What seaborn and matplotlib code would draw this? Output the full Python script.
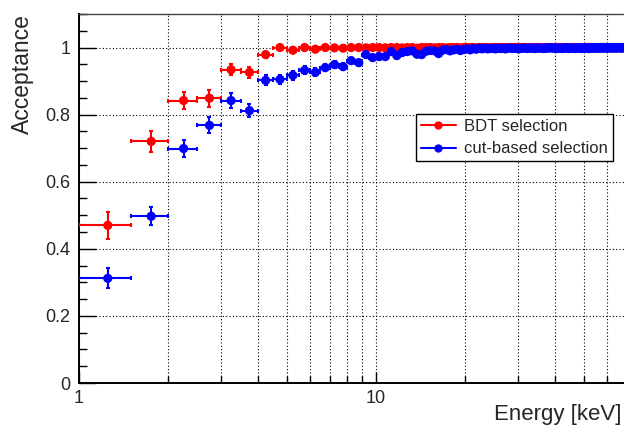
import numpy as np
import pandas as pd
import matplotlib
matplotlib.use("Agg")
import matplotlib.pyplot as plt
import seaborn as sns
from matplotlib.lines import Line2D
from matplotlib.ticker import LogLocator, FuncFormatter, NullFormatter, MultipleLocator

# energy bins: 0.5 keV wide, starting at 1 keV
bin_width = 0.5
energy = np.arange(1.25, 68.5, bin_width)

# acceptance, BDT selection
bdt_acc = [
    0.470, 0.720, 0.842, 0.849, 0.934, 0.926, 0.979, 1.000, 0.992, 1.000,
    0.995, 1.000, 0.999, 0.998, 1.000, 1.000, 0.999, 1.000, 1.000, 0.999,
    1.000, 1.000, 0.999, 1.000, 1.000, 0.998, 1.000, 1.000, 1.000, 0.999,
    1.000, 1.000, 0.999, 1.000, 1.000, 1.000, 0.999, 1.000, 1.000, 1.000,
    1.000, 0.999, 1.000, 1.000, 1.000, 1.000, 0.999, 1.000, 1.000, 1.000,
    1.000, 1.000, 1.000, 0.999, 1.000, 1.000, 1.000, 1.000, 1.000, 0.999,
    1.000, 1.000, 1.000, 1.000, 0.999, 1.000, 1.000, 1.000, 1.000, 1.000,
    1.000, 0.999, 1.000, 1.000, 1.000, 1.000, 1.000, 1.000, 0.999, 1.000,
    1.000, 1.000, 1.000, 1.000, 1.000, 0.999, 1.000, 1.000, 1.000, 1.000,
    1.000, 1.000, 0.999, 1.000, 1.000, 1.000, 1.000, 1.000, 1.000, 1.000,
    0.999, 1.000, 1.000, 1.000, 1.000, 1.000, 1.000, 0.999, 1.000, 1.000,
    1.000, 1.000, 1.000, 1.000, 1.000, 1.000, 0.999, 1.000, 1.000, 1.000,
    1.000, 1.000, 1.000, 1.000, 1.000, 1.000, 1.000, 1.000, 0.999, 1.000,
    1.000, 1.000, 1.000, 1.000, 1.000,
]
bdt_err = [
    0.040, 0.031, 0.024, 0.025, 0.016, 0.016, 0.009, 0.003, 0.006, 0.003,
    0.005, 0.002, 0.003, 0.003, 0.002, 0.002, 0.003, 0.002, 0.002, 0.003,
    0.002, 0.002, 0.003, 0.002, 0.002, 0.003, 0.002, 0.002, 0.002, 0.003,
    0.002, 0.002, 0.002, 0.002, 0.002, 0.002, 0.002, 0.002, 0.002, 0.002,
    0.002, 0.002, 0.002, 0.002, 0.002, 0.002, 0.002, 0.002, 0.002, 0.002,
    0.002, 0.002, 0.002, 0.002, 0.002, 0.002, 0.002, 0.002, 0.002, 0.002,
    0.002, 0.002, 0.002, 0.002, 0.002, 0.002, 0.002, 0.002, 0.002, 0.002,
    0.002, 0.002, 0.002, 0.002, 0.002, 0.002, 0.002, 0.002, 0.002, 0.002,
    0.002, 0.002, 0.002, 0.002, 0.002, 0.002, 0.002, 0.002, 0.002, 0.002,
    0.002, 0.002, 0.002, 0.002, 0.002, 0.002, 0.002, 0.002, 0.002, 0.002,
    0.002, 0.002, 0.002, 0.002, 0.002, 0.002, 0.002, 0.002, 0.002, 0.002,
    0.002, 0.002, 0.002, 0.002, 0.002, 0.002, 0.002, 0.002, 0.002, 0.002,
    0.002, 0.002, 0.002, 0.002, 0.002, 0.002, 0.002, 0.002, 0.002, 0.002,
    0.002, 0.002, 0.002, 0.002, 0.002,
]

# acceptance, cut-based selection
cut_acc = [
    0.312, 0.497, 0.699, 0.768, 0.842, 0.812, 0.902, 0.905, 0.917, 0.932,
    0.926, 0.940, 0.949, 0.943, 0.961, 0.955, 0.979, 0.970, 0.973, 0.973,
    0.988, 0.976, 0.985, 0.988, 0.990, 0.980, 0.979, 0.989, 0.991, 0.990,
    0.982, 0.992, 0.994, 0.990, 0.993, 0.995, 0.991, 0.994, 0.996, 0.993,
    0.997, 0.995, 0.998, 0.996, 0.998, 0.996, 0.997, 0.998, 0.996, 0.998,
    0.997, 0.998, 0.996, 0.998, 0.999, 0.997, 0.998, 0.997, 0.996, 0.998,
    0.998, 0.999, 0.997, 0.998, 0.999, 0.998, 0.997, 0.999, 0.998, 0.999,
    0.998, 0.997, 0.999, 0.998, 0.999, 1.000, 0.998, 0.999, 0.998, 0.997,
    0.999, 0.998, 0.997, 0.999, 0.998, 1.000, 0.998, 0.997, 0.999, 0.998,
    0.999, 0.997, 0.998, 1.000, 0.998, 0.999, 0.997, 0.999, 0.998, 1.000,
    0.998, 0.999, 0.997, 0.999, 1.000, 0.998, 0.999, 0.998, 1.000, 0.999,
    0.998, 1.000, 0.999, 0.998, 0.999, 1.000, 0.998, 0.999, 1.000, 0.999,
    0.999, 0.998, 1.000, 0.999, 1.000, 0.998, 0.999, 1.000, 0.999, 1.000,
    0.999, 1.000, 0.998, 0.999, 1.000,
]
cut_err = [
    0.030, 0.027, 0.024, 0.024, 0.021, 0.020, 0.015, 0.014, 0.013, 0.012,
    0.012, 0.011, 0.010, 0.010, 0.009, 0.009, 0.007, 0.008, 0.008, 0.008,
    0.006, 0.007, 0.006, 0.006, 0.005, 0.006, 0.006, 0.005, 0.005, 0.005,
    0.005, 0.004, 0.004, 0.004, 0.004, 0.004, 0.004, 0.004, 0.003, 0.004,
    0.003, 0.004, 0.003, 0.003, 0.003, 0.003, 0.003, 0.003, 0.003, 0.003,
    0.003, 0.003, 0.003, 0.003, 0.002, 0.003, 0.003, 0.003, 0.003, 0.003,
    0.003, 0.002, 0.003, 0.003, 0.003, 0.002, 0.003, 0.003, 0.002, 0.003,
    0.003, 0.003, 0.002, 0.003, 0.003, 0.002, 0.003, 0.003, 0.002, 0.003,
    0.002, 0.003, 0.003, 0.002, 0.003, 0.002, 0.003, 0.003, 0.002, 0.003,
    0.002, 0.003, 0.003, 0.002, 0.003, 0.002, 0.003, 0.002, 0.003, 0.002,
    0.003, 0.002, 0.003, 0.002, 0.002, 0.003, 0.002, 0.003, 0.002, 0.002,
    0.003, 0.002, 0.002, 0.003, 0.002, 0.002, 0.003, 0.002, 0.002, 0.002,
    0.002, 0.003, 0.002, 0.002, 0.002, 0.003, 0.002, 0.002, 0.002, 0.002,
    0.002, 0.002, 0.003, 0.002, 0.002,
]

series_names = ["BDT selection", "cut-based selection"]
series_colors = {"BDT selection": "#ff0000", "cut-based selection": "#0000ff"}

df = pd.concat([
    pd.DataFrame({"energy": energy, "acc": bdt_acc, "err": bdt_err, "sel": series_names[0]}),
    pd.DataFrame({"energy": energy, "acc": cut_acc, "err": cut_err, "sel": series_names[1]}),
], ignore_index=True)

sns.set_style("ticks", {"xtick.direction": "in", "ytick.direction": "in"})
plt.rcParams["font.family"] = ["Liberation Sans", "DejaVu Sans"]

fig = plt.figure(figsize=(6.24, 4.29), dpi=100)
ax = fig.add_axes([0.1266, 0.1072, 0.8734, 0.8602])
ax.set_xscale("log")

# error bars (x = bin width, y = stat. error), then the markers on top
for name in series_names:
    sub = df[df["sel"] == name]
    ax.errorbar(sub["energy"], sub["acc"], xerr=bin_width / 2, yerr=sub["err"],
                fmt="none", ecolor=series_colors[name], elinewidth=1.5,
                capsize=1.6, capthick=1.5, zorder=3)
    sns.scatterplot(data=sub, x="energy", y="acc", color=series_colors[name],
                    s=44, edgecolor="none", linewidth=0, ax=ax, zorder=4, legend=False)

ax.set_xlim(1, 68.4)
ax.set_ylim(0, 1.1)

ax.xaxis.set_major_locator(LogLocator(base=10))
ax.xaxis.set_minor_locator(LogLocator(base=10, subs=np.arange(2, 10)))
ax.xaxis.set_major_formatter(FuncFormatter(lambda v, p: "%g" % v))
ax.xaxis.set_minor_formatter(NullFormatter())
ax.yaxis.set_major_locator(MultipleLocator(0.2))
ax.yaxis.set_minor_locator(MultipleLocator(0.05))
ax.yaxis.set_major_formatter(FuncFormatter(lambda v, p: "%g" % round(v, 2)))

ax.tick_params(axis="x", which="major", length=8, width=1, labelsize=13, pad=5, color="black")
ax.tick_params(axis="x", which="minor", length=5, width=1, color="black")
ax.tick_params(axis="y", which="major", length=12, width=1, labelsize=13, pad=6, color="black")
ax.tick_params(axis="y", which="minor", length=5.8, width=1, color="black")

grid_kw = dict(color="black", linestyle=(0, (1, 2)), linewidth=0.8)
ax.grid(True, which="both", axis="x", **grid_kw)
ax.grid(True, which="major", axis="y", **grid_kw)
ax.set_axisbelow(True)

ax.spines["right"].set_visible(False)
for s in ["left", "bottom"]:
    ax.spines[s].set_linewidth(1.4)
    ax.spines[s].set_color("black")
ax.spines["top"].set_linewidth(1.0)
ax.spines["top"].set_color("#444444")

ax.set_xlabel("Energy [keV]", fontsize=16, loc="right")
ax.xaxis.set_label_coords(0.996, -0.058)
ax.set_ylabel("Acceptance", fontsize=16.5, loc="top")
ax.yaxis.set_label_coords(-0.082, 1.0)

handles = [Line2D([0], [0], color=series_colors[n], lw=1.5, marker="o", markersize=6,
                  markeredgewidth=0) for n in series_names]
leg = ax.legend(handles, series_names, loc="upper right", bbox_to_anchor=(0.98, 0.729),
                fontsize=12, frameon=True, fancybox=False, framealpha=1,
                edgecolor="black", handlelength=2.1, handletextpad=0.5,
                labelspacing=0.45, borderpad=0.3, borderaxespad=0)
leg.get_frame().set_linewidth(1.0)

fig.savefig("out.png", dpi=100)
